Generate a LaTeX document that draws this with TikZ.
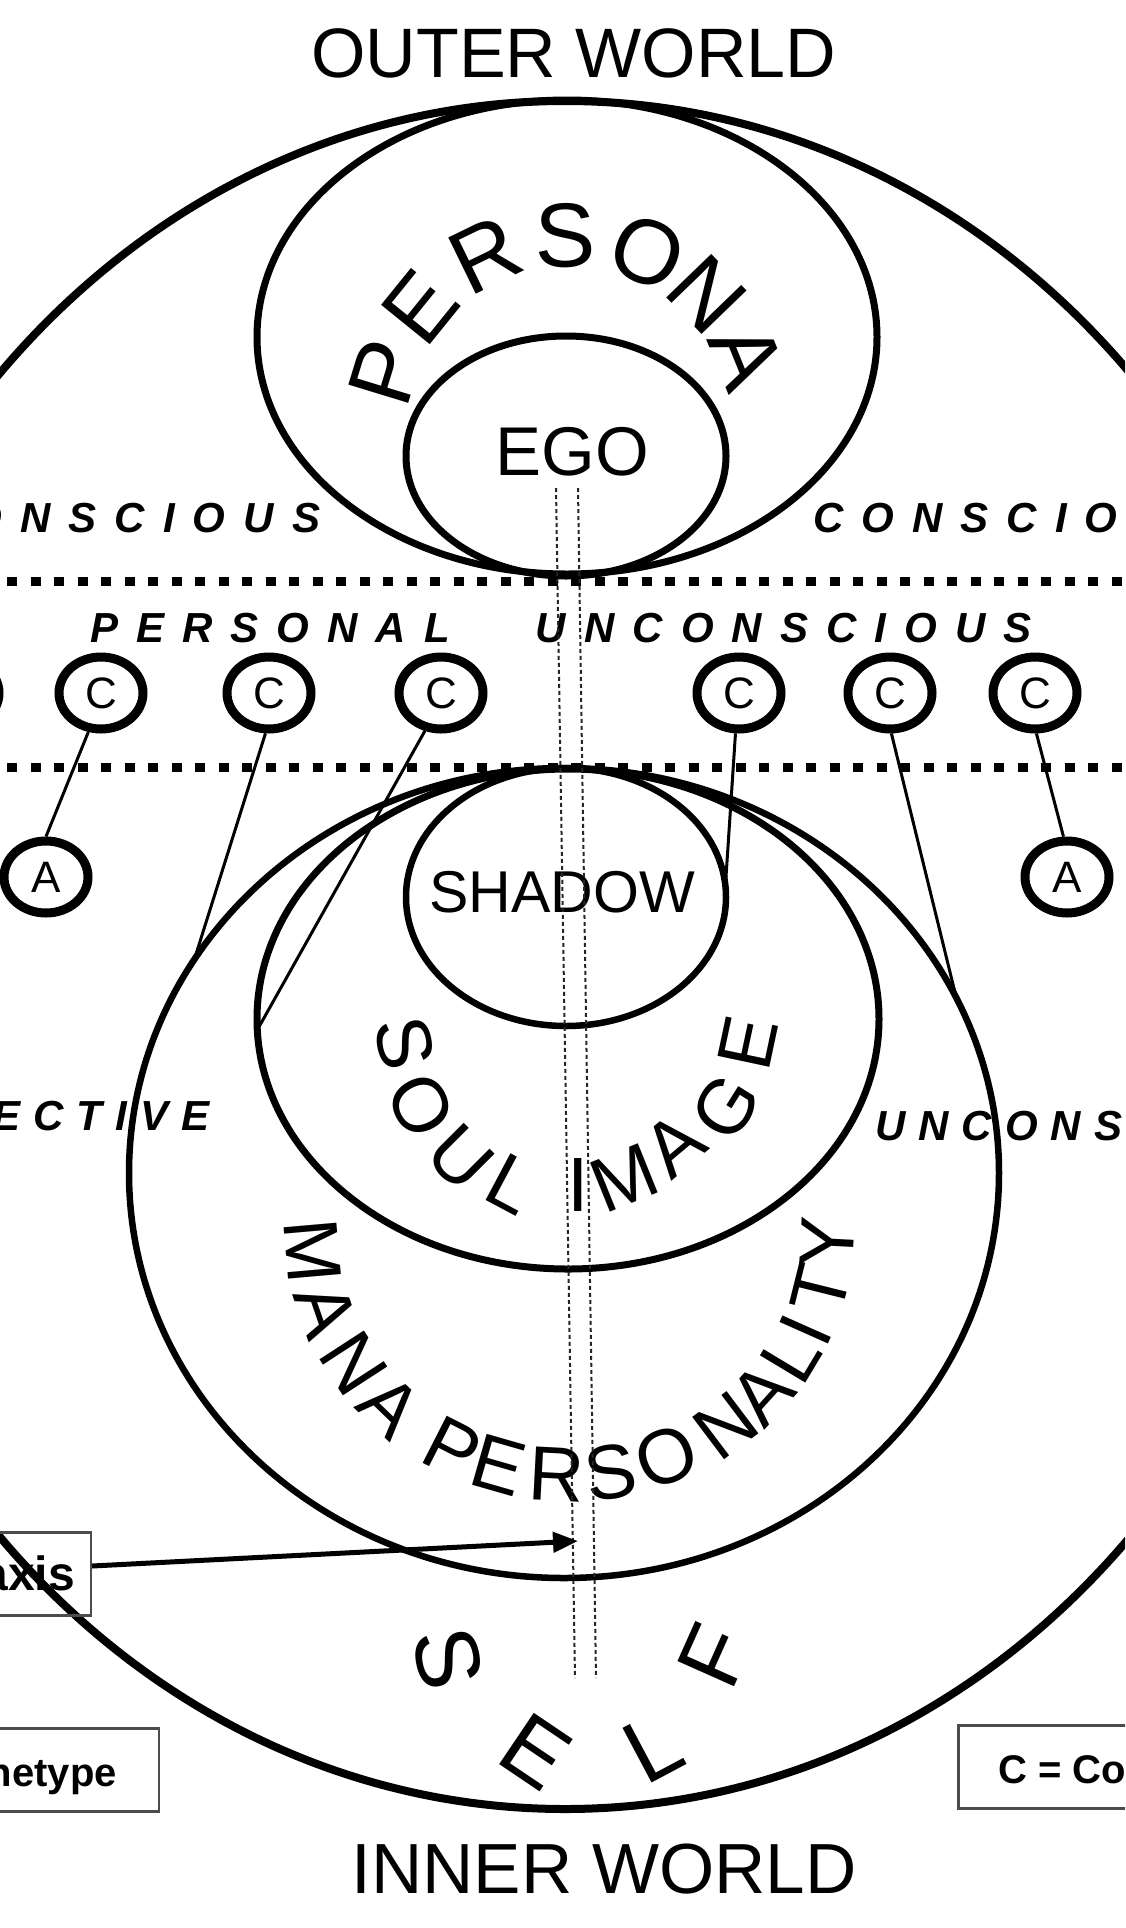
\documentclass[tikz,border=0pt]{standalone}
\usepackage{fontspec}
\setmainfont{Liberation Sans}
\newfontfamily\trackA{Liberation Sans}[LetterSpace=43]
\newfontfamily\trackB{Liberation Sans}[LetterSpace=31]
\usetikzlibrary{shapes.geometric,arrows.meta,calc}
\newcommand\fs[1]{\fontsize{#1}{#1}\selectfont}
\begin{document}
\begin{tikzpicture}[x=1pt,y=-1pt,
  bigring/.style={draw, ellipse, inner sep=0pt, outer sep=0pt, line width=7pt},
  cnode/.style={draw, ellipse, line width=9pt, minimum width=84pt, minimum height=72pt, inner sep=0pt, font=\fs{44}},
  sepline/.style={line width=9pt, dash pattern=on 10pt off 13.5pt},
  link/.style={line width=3pt},
  axisline/.style={line width=2pt, dash pattern=on 4pt off 3pt, black!85},
  spaced/.style={anchor=base west, inner sep=0pt, font=\trackA\bfseries\itshape\fs{42}},
  spacedB/.style={anchor=base west, inner sep=0pt, font=\trackB\bfseries\itshape\fs{42}},
  legend/.style={draw=black!70, line width=2.5pt, minimum height=83pt, inner ysep=0pt, inner xsep=20pt, font=\bfseries\fs{42}, text height=33pt, text depth=0pt},
  arcletter/.style={inner sep=0pt}]
\path[use as bounding box] (0,0) rectangle (1125,1928);
\fill[white] (0,0) rectangle (1125,1928);
\clip (0,0) rectangle (1125,1928);

% titles
\node[font=\fs{70}] (outer) at (574,53) {OUTER WORLD};
\node[font=\fs{71}] (inner) at (604,1869) {INNER WORLD};

% big shapes
\node[bigring, line width=8pt, minimum width=1544pt, minimum height=1708pt] (self) at (565,955) {};
\node[bigring, minimum width=620pt, minimum height=474pt] (persona) at (567,337) {};
\node[bigring, minimum width=320pt, minimum height=240pt] (ego) at (566,456) {};
\node[font=\fs{69}, inner sep=0pt] (egotext) at (572,452) {EGO};
\node[bigring, line width=6.5pt, minimum width=320pt, minimum height=258pt] (shadow) at (566,897) {};
\node[font=\fs{59}, inner sep=0pt] (shadowtext) at (562,892) {SHADOW};
\node[bigring, minimum width=622pt, minimum height=500pt] (soul) at (568,1019) {};
\node[bigring, line width=6.5pt, minimum width=870pt, minimum height=810pt] (mana) at (564,1173) {};

% separators
\draw[sepline] (7,581) -- (1125,581);
\draw[sepline] (7,767) -- (1125,767);

% level labels
\node[spaced] (consL) at (-79,532) {CONSCIOUS};
\node[spaced] (consR) at (813,532) {CONSCIOUS};
\node[spaced] (persunc) at (90,642) {PERSONAL\hspace{86pt}UNCONSCIOUS};
\node[spacedB] (coll) at (-174,1130) {COLLECTIVE};
\node[spacedB] (uncR) at (875,1140) {UNCONSCIOUS};

% complexes and archetypes
\node[cnode] (c0) at (-43,693) {};
\node[cnode] (c1) at (101,693) {C};
\node[cnode] (c2) at (269,693) {C};
\node[cnode] (c3) at (441,693) {C};
\node[cnode] (c4) at (739,693) {C};
\node[cnode] (c5) at (890,693) {C};
\node[cnode] (c6) at (1035,693) {C};
\node[cnode] (a1) at (46,877) {A};
\node[cnode] (a2) at (1067,877) {A};

\draw[link] (c1.252) -- (a1.90);
\draw[link] (c2.265) -- (mana.150);
\draw[link] (c3.247) -- (soul.182);
\draw[link] (c4.265) -- (shadow.4);
\draw[link] (c5.272) -- (mana.24);
\draw[link] (c6.272) -- (a2.95);

% curved labels
\foreach \ch/\a [count=\i] in {P/163,E/141,R/116,S/91,O/66,N/44,A/22}
  \node[arcletter, font=\fs{91}, rotate={\a-90}] (pl\i) at ({569+192*cos(\a)},{428-192*sin(\a)}) {\ch};

\foreach \ch/\x/\y/\r [count=\i] in {S/405/1043/-78, O/421/1105/-62, U/461/1158/-45, L/512/1184/-28, I/578/1185/0, M/624/1178/22, A/674/1145/40, G/726/1107/58, E/748/1043/78}
  \node[arcletter, font=\fs{77}, rotate=\r] (sl\i) at (\x,\y) {\ch};

\foreach \ch/\a [count=\i] in {M/185,A/199,N/213,A/226,P/243,E/254,R/267,S/279,O/292,N/307,A/318,L/329,I/336,T/346,Y/357}
  \node[arcletter, font=\fs{77}, rotate={\a+90}] (ml\i) at ({570+258*cos(\a)},{1230-245*sin(\a)}) {\ch};

\foreach \ch/\x/\y/\r [count=\i] in {S/448/1658/-78, E/536/1752/-34, L/653/1747/28, F/714/1656/66}
  \node[arcletter, font=\fs{90}, rotate=\r] (sf\i) at (\x,\y) {\ch};

% ego-self axis
\coordinate (ax1t) at (556,488);
\coordinate (ax1b) at (575,1678);
\coordinate (ax2t) at (578,488);
\coordinate (ax2b) at (596,1678);
\draw[axisline] (ax1t) -- (ax1b);
\draw[axisline] (ax2t) -- (ax2b);

% legends
\node[legend, anchor=east, inner xsep=16pt, font=\bfseries\fs{48}] (axisbox) at (92,1574) {axis};
\coordinate (axtip) at (578,1541);
\draw[line width=5pt, -{Triangle[length=25pt,width=20pt]}] ([yshift=8pt]axisbox.east) -- (axtip);
\node[legend, anchor=east, inner xsep=42pt, font=\bfseries\fs{40}] (archbox) at (160,1770) {A = Archetype};
\node[legend, anchor=west, inner xsep=40pt, font=\bfseries\fs{40}] (cbox) at (957,1767) {C = Complex};
\end{tikzpicture}
\end{document}
